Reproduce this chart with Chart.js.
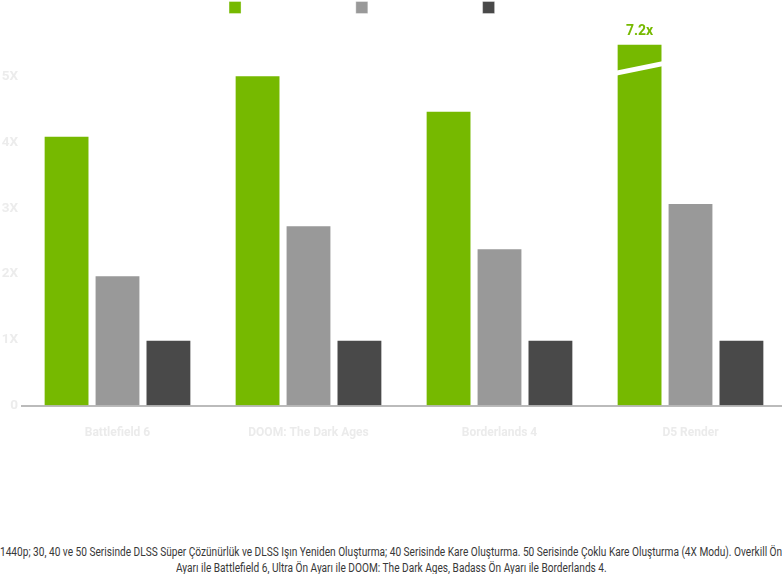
<!DOCTYPE html>
<html>
<head>
<meta charset="utf-8">
<script src="https://cdn.jsdelivr.net/npm/chart.js@4/dist/chart.umd.min.js"></script>
<style>
  html, body { margin: 0; padding: 0; background: #fff; width: 782px; height: 574px; overflow: hidden; }
  #wrap { position: absolute; left: 0; top: 0; width: 786px; height: 460px; }
  .note { position: absolute; top: 0; left: 0; white-space: nowrap; transform-origin: left top;
          font-family: Roboto, "Noto Sans", sans-serif; font-size: 12.5px; line-height: 16px; color: #383838; }
</style>
</head>
<body>
<div id="wrap"><canvas id="c" width="786" height="460"></canvas></div>
<div class="note" id="l1">1440p; 30, 40 ve 50 Serisinde DLSS Süper Çözünürlük ve DLSS Işın Yeniden Oluşturma; 40 Serisinde Kare Oluşturma. 50 Serisinde Çoklu Kare Oluşturma (4X Modu). Overkill Ön</div>
<div class="note" id="l2">Ayarı ile Battlefield 6, Ultra Ön Ayarı ile DOOM: The Dark Ages, Badass Ön Ayarı ile Borderlands 4.</div>
<script>
const categories = ["Battlefield 6", "DOOM: The Dark Ages", "Borderlands 4", "D5 Render"];
const seriesNames = ["GeForce RTX 5090", "GeForce RTX 4090", "RTX 3090"];
const rtx50 = [4.1, 5.02, 4.48, 5.5];
const rtx40 = [1.98, 2.74, 2.39, 3.08];
const rtx30 = [1, 1, 1, 1];
const overflowLabels = [null, null, null, "7.2x"];
const breakFrom = 5.05, breakTo = 5.2;
const yTickLabels = ["0", "1X", "2X", "3X", "4X", "5X"];
const colors = ["#76b900", "#999999", "#494949"];

const breakPlugin = {
  id: 'breakPlugin',
  afterDatasetsDraw(chart) {
    const meta = chart.getDatasetMeta(0);
    const ys = chart.scales.y;
    const ctx = chart.ctx;
    overflowLabels.forEach((lab, i) => {
      if (!lab) return;
      const bar = meta.data[i];
      const w = bar.width;
      const xl = bar.x - w / 2 - 1, xr = bar.x + w / 2 + 1;
      const yl = ys.getPixelForValue(breakFrom), yr = ys.getPixelForValue(breakTo);
      ctx.save();
      ctx.fillStyle = '#ffffff';
      ctx.beginPath();
      ctx.moveTo(xl, yl - 2.5);
      ctx.lineTo(xr, yr - 2.5);
      ctx.lineTo(xr, yr + 2.5);
      ctx.lineTo(xl, yl + 2.5);
      ctx.closePath();
      ctx.fill();
      ctx.fillStyle = colors[0];
      ctx.font = 'bold 14px Roboto, sans-serif';
      ctx.textAlign = 'center';
      ctx.textBaseline = 'middle';
      ctx.fillText(lab, bar.x, bar.y - 12);
      ctx.restore();
    });
  }
};

new Chart(document.getElementById('c'), {
  type: 'bar',
  data: {
    labels: categories,
    datasets: [
      { label: seriesNames[0], data: rtx50, backgroundColor: colors[0], borderColor: 'rgba(255,255,255,0.35)', borderWidth: 1 },
      { label: seriesNames[1], data: rtx40, backgroundColor: colors[1], borderColor: 'rgba(255,255,255,0.35)', borderWidth: 1 },
      { label: seriesNames[2], data: rtx30, backgroundColor: colors[2], borderColor: 'rgba(255,255,255,0.35)', borderWidth: 1 }
    ]
  },
  options: {
    responsive: false,
    animation: false,
    layout: { padding: { left: 0, right: 0, top: 0, bottom: 0 } },
    plugins: {
      legend: {
        position: 'top',
        labels: { boxWidth: 12, boxHeight: 12, padding: 1, color: '#ffffff',
                  font: { family: 'Roboto', size: 13.0 } }
      },
      tooltip: { enabled: false }
    },
    scales: {
      x: {
        grid: { display: false, drawTicks: false },
        border: { display: true, color: '#bbbbbb', width: 2 },
        ticks: { padding: 20, color: '#ebebeb', font: { family: 'Roboto', size: 12, weight: 'bold' } }
      },
      y: {
        min: 0, max: 5.8,
        afterFit(scale) { scale.width = 22; },
        grid: { display: false, drawTicks: false },
        border: { display: false },
        ticks: { stepSize: 1, padding: 4, color: '#ececec', font: { family: 'Roboto', size: 13.5, weight: 'bold' },
                 callback: (v) => (Number.isInteger(v) && yTickLabels[v] !== undefined) ? yTickLabels[v] : '' }
      }
    }
  },
  plugins: [breakPlugin]
});

// fit footnote lines: same horizontal compression for both, centered
const l1 = document.getElementById('l1'), l2 = document.getElementById('l2');
const s = 782 / l1.offsetWidth;
[[l1, 544], [l2, 560]].forEach(([el, top]) => {
  const w = el.offsetWidth * s;
  el.style.left = (391 - w / 2) + 'px';
  el.style.top = top + 'px';
  el.style.transform = 'scaleX(' + s + ')';
});
</script>
</body>
</html>
